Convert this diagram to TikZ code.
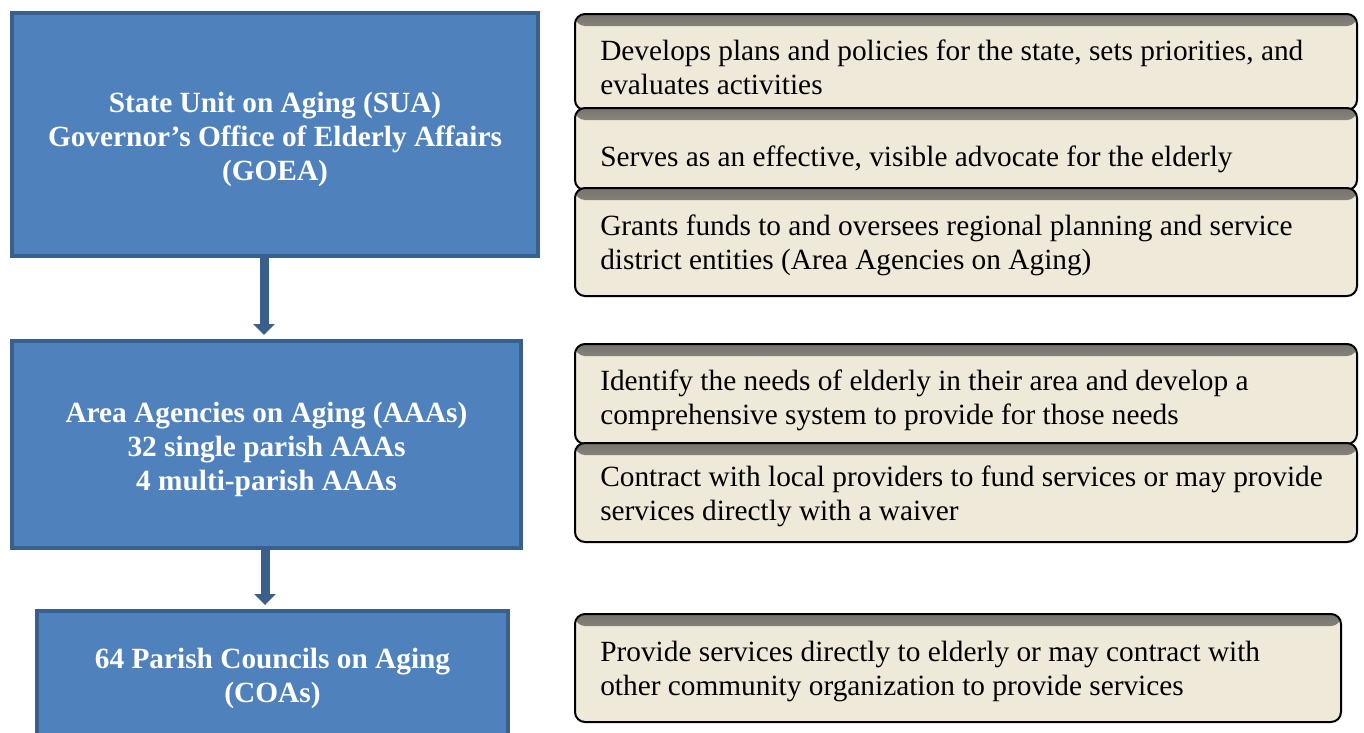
\documentclass[tikz,border=0pt]{standalone}
\usepackage{fontspec}
\setmainfont{Liberation Serif}
\usetikzlibrary{arrows.meta}
\definecolor{boxblue}{HTML}{4F81BD}
\definecolor{boxedge}{HTML}{3A5F8B}
\definecolor{beige}{HTML}{EEE9D8}
\definecolor{shadegray}{HTML}{74726B}
\begin{document}
\begin{tikzpicture}[x=0.75pt,y=-0.75pt]
\useasboundingbox (0,0) rectangle (1364,732);
\clip (0,0) rectangle (1364,732);
\tikzset{
  lvl/.style={draw=boxedge, fill=boxblue, line width=3pt,
    inner sep=0pt, outer sep=0pt},
  lvltext/.style={text=white, font=\bfseries\fontsize{22}{25.5}\selectfont,
    align=center, inner sep=0pt},
  desc/.style={draw=black, line width=1.5pt, fill=beige, rounded corners=7.5pt,
    inner sep=0pt, outer sep=0pt, anchor=north west,
    path picture={\shade[top color=shadegray, bottom color=beige]
      ([yshift=1pt]path picture bounding box.north west) rectangle
      ([yshift=-9pt]path picture bounding box.north east);}},
  desctext/.style={anchor=west, inner sep=0pt, align=left,
    font=\fontsize{22}{25.5}\selectfont},
  flow/.style={draw=boxedge, line width=6.75pt, shorten >=4.5pt,
    -{Triangle[width=15.75pt,length=8.25pt]}}
}
% left hierarchy
\node[lvl, minimum width=394.5pt, minimum height=182.25pt] (sua) at (275,134.5) {};
\node[lvltext] (suat) at (275,139.5)
  {State Unit on Aging (SUA)\\Governor’s Office of Elderly Affairs\\(GOEA)};
\node[lvl, minimum width=381.75pt, minimum height=155.25pt] (aaa) at (266.5,444.5) {};
\node[lvltext] (aaat) at (266.5,449.5)
  {Area Agencies on Aging (AAAs)\\32 single parish AAAs\\4 multi-parish AAAs};
\node[lvl, minimum width=353.25pt, minimum height=98.25pt] (coa) at (272.5,676.5) {};
\node[lvltext] (coat) at (272.5,678.5)
  {64 Parish Councils on Aging\\(COAs)};
\coordinate (s1) at ([xshift=-8.25pt]sua.south);
\coordinate (s2) at ([xshift=-1.1pt]aaa.south);
\draw[flow] (s1) -- (s1 |- aaa.north);
\draw[flow] (s2) -- (s2 |- coa.north);
% description boxes
\node[desc, minimum width=586.5pt, minimum height=72pt] (d1) at (575,14) {};
\node[desctext] (t1) at (600,67) {Develops plans and policies for the state, sets priorities, and\\evaluates activities};
\node[desc, minimum width=586.5pt, minimum height=61.5pt] (d2) at (575,108) {};
\node[desctext] (t2) at (600,159) {Serves as an effective, visible advocate for the elderly};
\node[desc, minimum width=586.5pt, minimum height=81pt] (d3) at (575,188) {};
\node[desctext] (t3) at (600,245) {Grants funds to and oversees regional planning and service\\district entities (Area Agencies on Aging)};
\node[desc, minimum width=586.5pt, minimum height=75pt] (d4) at (575,344) {};
\node[desctext] (t4) at (600,400.5) {Identify the needs of elderly in their area and develop a\\comprehensive system to provide for those needs};
\node[desc, minimum width=586.5pt, minimum height=74.25pt] (d5) at (575,443) {};
\node[desctext] (t5) at (600,496) {Contract with local providers to fund services or may provide\\services directly with a waiver};
\node[desc, minimum width=574.5pt, minimum height=81pt] (d6) at (575,614) {};
\node[desctext] (t6) at (600,671) {Provide services directly to elderly or may contract with\\other community organization to provide services};
\end{tikzpicture}
\end{document}
